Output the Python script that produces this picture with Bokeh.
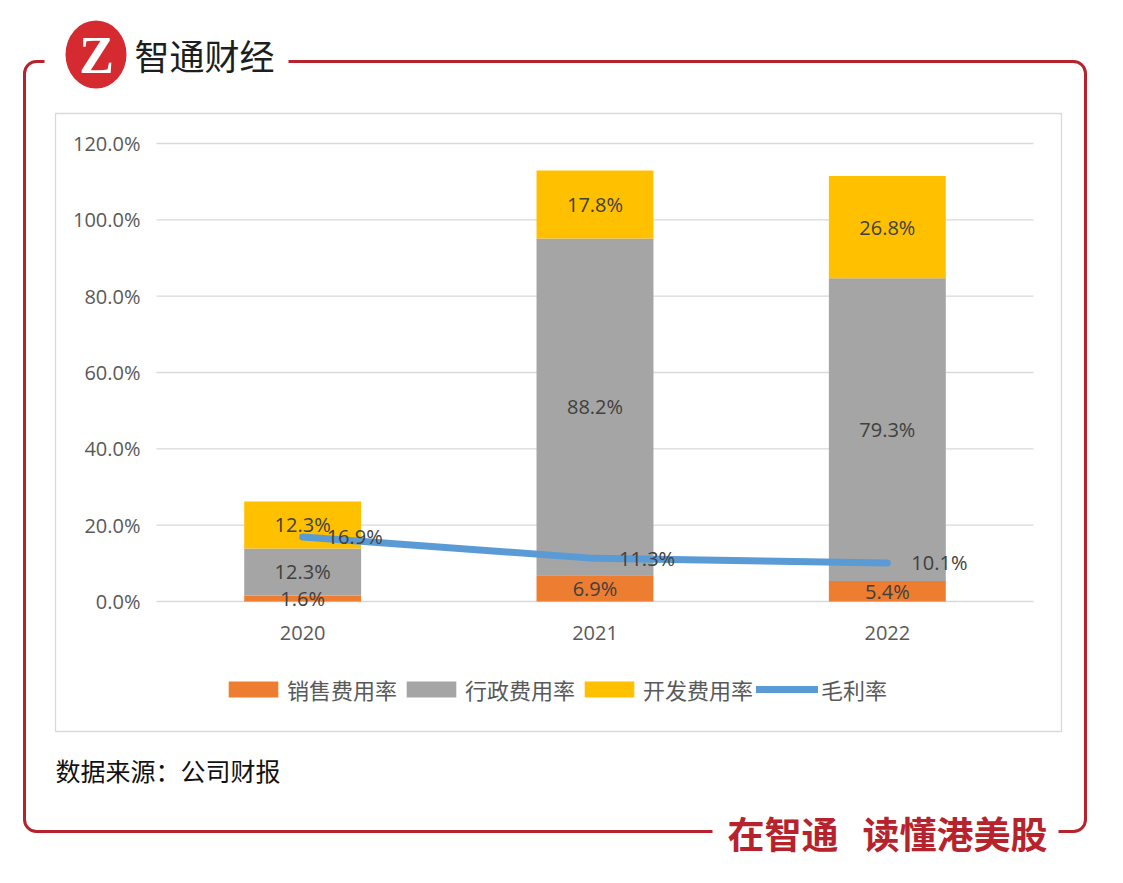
from bokeh.plotting import figure
from bokeh.models import Range1d, ColumnDataSource, Legend, LegendItem, BoxAnnotation
from bokeh.core.properties import value
from bokeh.embed import file_html
from bokeh.resources import INLINE

# ---------------- data ----------------
years = ["2020", "2021", "2022"]
sales_rate = [1.6, 6.9, 5.4]        # 销售费用率
admin_rate = [12.3, 88.2, 79.3]     # 行政费用率
rd_rate = [12.3, 17.8, 26.8]        # 开发费用率
gross_margin = [16.9, 11.3, 10.1]   # 毛利率
series_names = ["销售费用率", "行政费用率", "开发费用率", "毛利率"]
y_ticks = [0, 20, 40, 60, 80, 100, 120]
y_tick_labels = ["0.0%", "20.0%", "40.0%", "60.0%", "80.0%", "100.0%", "120.0%"]
title_text = "智通财经"
logo_text = "Z"
source_text = "数据来源：公司财报"
slogan_left = "在智通"
slogan_right = "读懂港美股"

# ---------------- styles / layout ----------------
bar_colors = ["#ED7D31", "#A5A5A5", "#FFC000"]
line_color = "#5B9BD5"
red = "#B7232D"
num_font = "Open Sans"
cjk_font = "Noto Sans CJK SC"
label_color = "#404040"
axis_color = "#595959"

W, H = 1107, 867
PL, PR = 156, 1033          # plot area left/right (px)
P0, P120 = 601, 143         # pixel rows of 0% and 120%
n = len(years)
cat_w = (PR - PL) / n
px_per = (P0 - P120) / 120.0
x_start = -0.5 - PL / cat_w
y_start = (P0 - H) / px_per

p = figure(width=W, height=H, x_range=Range1d(0, W), y_range=Range1d(H, 0),
           x_axis_type=None, y_axis_type=None, output_backend="svg",
           toolbar_location=None, min_border=0)
p.extra_x_ranges = {"cat": Range1d(x_start, x_start + W / cat_w)}
p.extra_y_ranges = {"pct": Range1d(y_start, y_start + H / px_per)}
p.grid.visible = False
p.outline_line_color = None
p.background_fill_color = "white"
p.border_fill_color = "white"

# ---------------- frame decorations ----------------
p.add_layout(BoxAnnotation(left=24, right=1085, top=61, bottom=831, fill_alpha=0,
                           line_color=red, line_alpha=1, line_width=3, border_radius=12,
                           level="underlay"))
p.add_layout(BoxAnnotation(left=55, right=1061, top=113, bottom=731, fill_alpha=0,
                           line_color="#D9D9D9", line_alpha=1, line_width=1.3,
                           level="underlay"))
p.quad(left=[44, 712], right=[288, 1058], top=[48, 818], bottom=[74, 846],
       fill_color="white", line_color=None)
p.ellipse(x=95.5, y=54, width=61, height=68, fill_color="#D42A30", line_color=None)
p.text(x=[96], y=[55], text=[logo_text], text_align="center", text_baseline="middle",
       text_color="white", text_font=value("Liberation Serif"), text_font_style="bold",
       text_font_size="52px")
p.text(x=[134], y=[54], text=[title_text], text_align="left", text_baseline="middle",
       text_color="#1E1E1E", text_font=value(cjk_font), text_font_size="35px")
p.text(x=[55], y=[769], text=[source_text], text_align="left", text_baseline="middle",
       text_color="#111111", text_font=value(cjk_font), text_font_size="25px")
p.text(x=[727, 862], y=[832, 832], text=[slogan_left, slogan_right], text_align="left",
       text_baseline="middle", text_color=red, text_font=value(cjk_font),
       text_font_style="bold", text_font_size="37px")

# ---------------- axes (grid + tick labels through the pct / cat scales) ----------------
p.segment(x0=[PL] * len(y_ticks), x1=[PR] * len(y_ticks), y0=y_ticks, y1=y_ticks,
          y_range_name="pct", line_color="#D9D9D9", line_width=1.3)
p.text(x=[PL - 16] * len(y_ticks), y=y_ticks, text=y_tick_labels, y_range_name="pct",
       text_align="right", text_baseline="middle", text_font=value(num_font),
       text_font_size="20px", text_color=axis_color)
xi = list(range(n))
p.text(x=xi, y=[P0 + 31] * n, text=years, x_range_name="cat", text_align="center",
       text_baseline="middle", text_font=value(num_font), text_font_size="20px",
       text_color=axis_color)

# ---------------- bars, line, labels ----------------
src = ColumnDataSource(dict(x=xi, sales=sales_rate, admin=admin_rate, rd=rd_rate))
bars = p.vbar_stack(["sales", "admin", "rd"], x="x", width=0.4, source=src,
                    color=bar_colors, line_color=None, x_range_name="cat", y_range_name="pct")
ln = p.line(x=xi, y=gross_margin, line_width=7, line_color=line_color, line_cap="round",
            line_join="round", x_range_name="cat", y_range_name="pct")

lab_x, lab_y, lab_t = [], [], []
for i in xi:
    base = 0.0
    for vals in (sales_rate, admin_rate, rd_rate):
        v = vals[i]
        lab_x.append(i)
        lab_y.append(base + v / 2)
        lab_t.append(f"{v:.1f}%")
        base += v
p.text(x=lab_x, y=lab_y, text=lab_t, x_range_name="cat", y_range_name="pct",
       text_align="center", text_baseline="middle", text_font=value(num_font),
       text_font_size="20px", text_color=label_color)
p.text(x=xi, y=gross_margin, text=[f"{v:.1f}%" for v in gross_margin], x_offset=24,
       x_range_name="cat", y_range_name="pct", text_align="left", text_baseline="middle",
       text_font=value(num_font), text_font_size="20px", text_color=label_color)

# ---------------- legend ----------------
legend = Legend(items=[LegendItem(label=series_names[0], renderers=[bars[0]]),
                       LegendItem(label=series_names[1], renderers=[bars[1]]),
                       LegendItem(label=series_names[2], renderers=[bars[2]]),
                       LegendItem(label=series_names[3], renderers=[ln])],
                orientation="horizontal", location=(222, H - 705), margin=0, padding=0,
                spacing=3, label_standoff=3, glyph_width=62, glyph_height=20,
                border_line_color=None, background_fill_alpha=0,
                label_text_font=cjk_font, label_text_font_size="22px",
                label_text_color=axis_color)
p.add_layout(legend)

open("out.html", "w").write(file_html(p, INLINE))
